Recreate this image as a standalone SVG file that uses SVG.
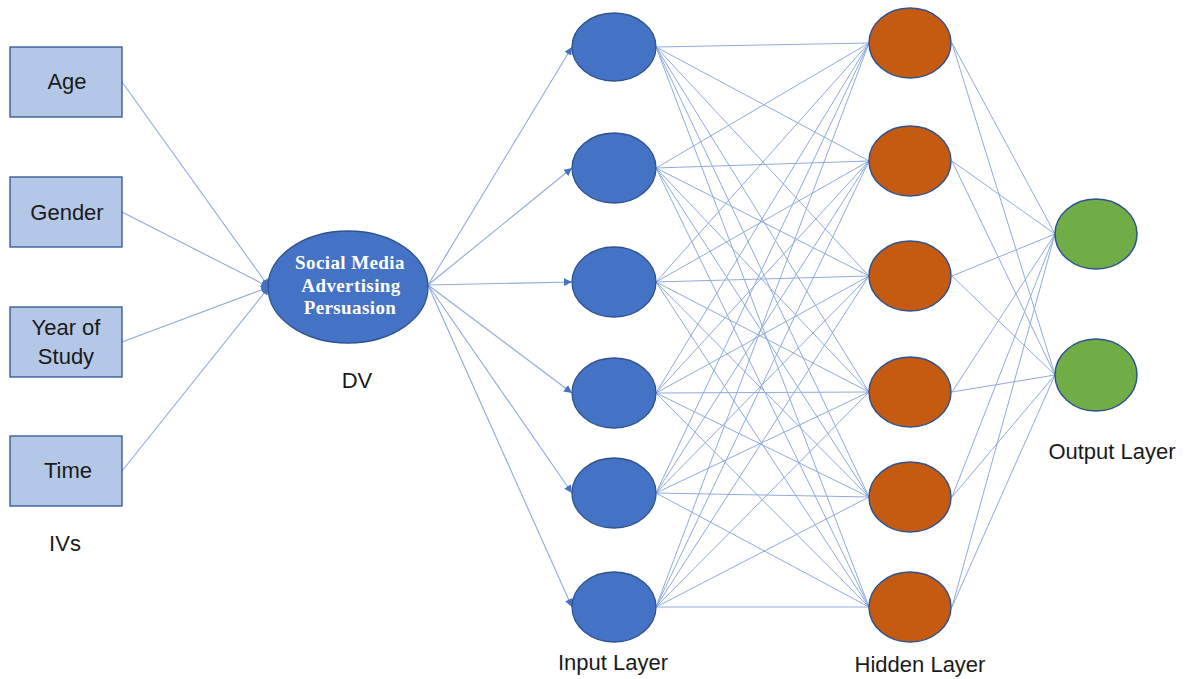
<svg xmlns="http://www.w3.org/2000/svg" width="1191" height="679" viewBox="0 0 1191 679">
<defs>
<style>
.box{fill:#b4c7e7;stroke:#2f528f;stroke-width:1.3}
.lbl{font-family:"Liberation Sans",Arial,sans-serif;font-size:22px;fill:#1a1a1a;text-anchor:middle}
.dvt{font-family:"Liberation Serif","Times New Roman",serif;font-size:19px;font-weight:bold;fill:#ffffff;text-anchor:middle;letter-spacing:0.4px}
.in{fill:#4472c4;stroke:#2f528f;stroke-width:1.3}
.hid{fill:#c55a11;stroke:#2f528f;stroke-width:1.5}
.out{fill:#70ad47;stroke:#2f528f;stroke-width:1.5}
.c{stroke:#8faadc;stroke-width:1;fill:none}
.a{stroke:#8faadc;stroke-width:1.1;fill:none;marker-end:url(#ah)}
</style>
<marker id="ah" viewBox="0 0 10 10" refX="10" refY="5" markerWidth="8" markerHeight="8" markerUnits="userSpaceOnUse" orient="auto">
<path d="M0,0 L10,5 L0,10 z" fill="#4472c4"/>
</marker>
</defs>
<g id="connectors">
<line class="a" x1="122" y1="82" x2="269" y2="287"/>
<line class="a" x1="122" y1="212" x2="269" y2="287"/>
<line class="a" x1="122" y1="342" x2="269" y2="287"/>
<line class="a" x1="122" y1="471" x2="269" y2="287"/>
<line class="a" x1="428" y1="285" x2="572" y2="47"/>
<line class="a" x1="428" y1="285" x2="572" y2="168"/>
<line class="a" x1="428" y1="285" x2="572" y2="282"/>
<line class="a" x1="428" y1="285" x2="572" y2="393"/>
<line class="a" x1="428" y1="285" x2="572" y2="493"/>
<line class="a" x1="428" y1="285" x2="572" y2="607"/>
<g id="in-hidden">
<line class="c" x1="656" y1="47" x2="869" y2="43"/><line class="c" x1="656" y1="47" x2="869" y2="161"/><line class="c" x1="656" y1="47" x2="869" y2="276"/><line class="c" x1="656" y1="47" x2="869" y2="392"/><line class="c" x1="656" y1="47" x2="869" y2="497"/><line class="c" x1="656" y1="47" x2="869" y2="607"/>
<line class="c" x1="656" y1="168" x2="869" y2="43"/><line class="c" x1="656" y1="168" x2="869" y2="161"/><line class="c" x1="656" y1="168" x2="869" y2="276"/><line class="c" x1="656" y1="168" x2="869" y2="392"/><line class="c" x1="656" y1="168" x2="869" y2="497"/><line class="c" x1="656" y1="168" x2="869" y2="607"/>
<line class="c" x1="656" y1="282" x2="869" y2="43"/><line class="c" x1="656" y1="282" x2="869" y2="161"/><line class="c" x1="656" y1="282" x2="869" y2="276"/><line class="c" x1="656" y1="282" x2="869" y2="392"/><line class="c" x1="656" y1="282" x2="869" y2="497"/><line class="c" x1="656" y1="282" x2="869" y2="607"/>
<line class="c" x1="656" y1="393" x2="869" y2="43"/><line class="c" x1="656" y1="393" x2="869" y2="161"/><line class="c" x1="656" y1="393" x2="869" y2="276"/><line class="c" x1="656" y1="393" x2="869" y2="392"/><line class="c" x1="656" y1="393" x2="869" y2="497"/><line class="c" x1="656" y1="393" x2="869" y2="607"/>
<line class="c" x1="656" y1="493" x2="869" y2="43"/><line class="c" x1="656" y1="493" x2="869" y2="161"/><line class="c" x1="656" y1="493" x2="869" y2="276"/><line class="c" x1="656" y1="493" x2="869" y2="392"/><line class="c" x1="656" y1="493" x2="869" y2="497"/><line class="c" x1="656" y1="493" x2="869" y2="607"/>
<line class="c" x1="656" y1="607" x2="869" y2="43"/><line class="c" x1="656" y1="607" x2="869" y2="161"/><line class="c" x1="656" y1="607" x2="869" y2="276"/><line class="c" x1="656" y1="607" x2="869" y2="392"/><line class="c" x1="656" y1="607" x2="869" y2="497"/><line class="c" x1="656" y1="607" x2="869" y2="607"/>
</g>
<g id="hidden-out">
<line class="c" x1="952" y1="43" x2="1055" y2="234"/><line class="c" x1="952" y1="43" x2="1055" y2="375"/>
<line class="c" x1="952" y1="161" x2="1055" y2="234"/><line class="c" x1="952" y1="161" x2="1055" y2="375"/>
<line class="c" x1="952" y1="276" x2="1055" y2="234"/><line class="c" x1="952" y1="276" x2="1055" y2="375"/>
<line class="c" x1="952" y1="392" x2="1055" y2="234"/><line class="c" x1="952" y1="392" x2="1055" y2="375"/>
<line class="c" x1="952" y1="497" x2="1055" y2="234"/><line class="c" x1="952" y1="497" x2="1055" y2="375"/>
<line class="c" x1="952" y1="607" x2="1055" y2="234"/><line class="c" x1="952" y1="607" x2="1055" y2="375"/>
</g>
</g>
<g id="iv-age"><rect class="box" x="10" y="47" width="112" height="70"/><text class="lbl" x="67" y="89">Age</text></g>
<g id="iv-gender"><rect class="box" x="10" y="177" width="112" height="70"/><text class="lbl" x="67" y="220">Gender</text></g>
<g id="iv-year"><rect class="box" x="10" y="307" width="112" height="70"/><text class="lbl" x="66" y="335">Year of</text><text class="lbl" x="66" y="364">Study</text></g>
<g id="iv-time"><rect class="box" x="10" y="436" width="112" height="70"/><text class="lbl" x="68" y="478">Time</text></g>
<g id="ivs-label"><text class="lbl" x="65" y="551">IVs</text></g>
<g id="dv"><ellipse class="in" cx="348" cy="287" rx="80" ry="56"/><text class="dvt" x="350" y="269">Social Media</text><text class="dvt" x="351" y="292">Advertising</text><text class="dvt" x="350" y="314">Persuasion</text></g>
<g id="dv-label"><text class="lbl" x="357" y="388">DV</text></g>
<g id="input1"><ellipse class="in" cx="614" cy="47" rx="42" ry="34"/></g>
<g id="input2"><ellipse class="in" cx="614" cy="168" rx="42" ry="35"/></g>
<g id="input3"><ellipse class="in" cx="614" cy="282" rx="42" ry="35"/></g>
<g id="input4"><ellipse class="in" cx="614" cy="393" rx="42" ry="35"/></g>
<g id="input5"><ellipse class="in" cx="614" cy="493" rx="42" ry="35"/></g>
<g id="input6"><ellipse class="in" cx="614" cy="607" rx="42" ry="35"/></g>
<g id="hidden1"><ellipse class="hid" cx="910" cy="43" rx="41" ry="35"/></g>
<g id="hidden2"><ellipse class="hid" cx="910" cy="161" rx="41" ry="35"/></g>
<g id="hidden3"><ellipse class="hid" cx="910" cy="276" rx="41" ry="35"/></g>
<g id="hidden4"><ellipse class="hid" cx="910" cy="392" rx="41" ry="35"/></g>
<g id="hidden5"><ellipse class="hid" cx="910" cy="497" rx="41" ry="35"/></g>
<g id="hidden6"><ellipse class="hid" cx="910" cy="607" rx="41" ry="35"/></g>
<g id="output1"><ellipse class="out" cx="1096" cy="234" rx="41" ry="35"/></g>
<g id="output2"><ellipse class="out" cx="1096" cy="375" rx="41" ry="36"/></g>
<g id="layer-labels">
<text class="lbl" x="613" y="670">Input Layer</text>
<text class="lbl" x="920" y="672">Hidden Layer</text>
<text class="lbl" x="1112" y="459">Output Layer</text>
</g>
</svg>
